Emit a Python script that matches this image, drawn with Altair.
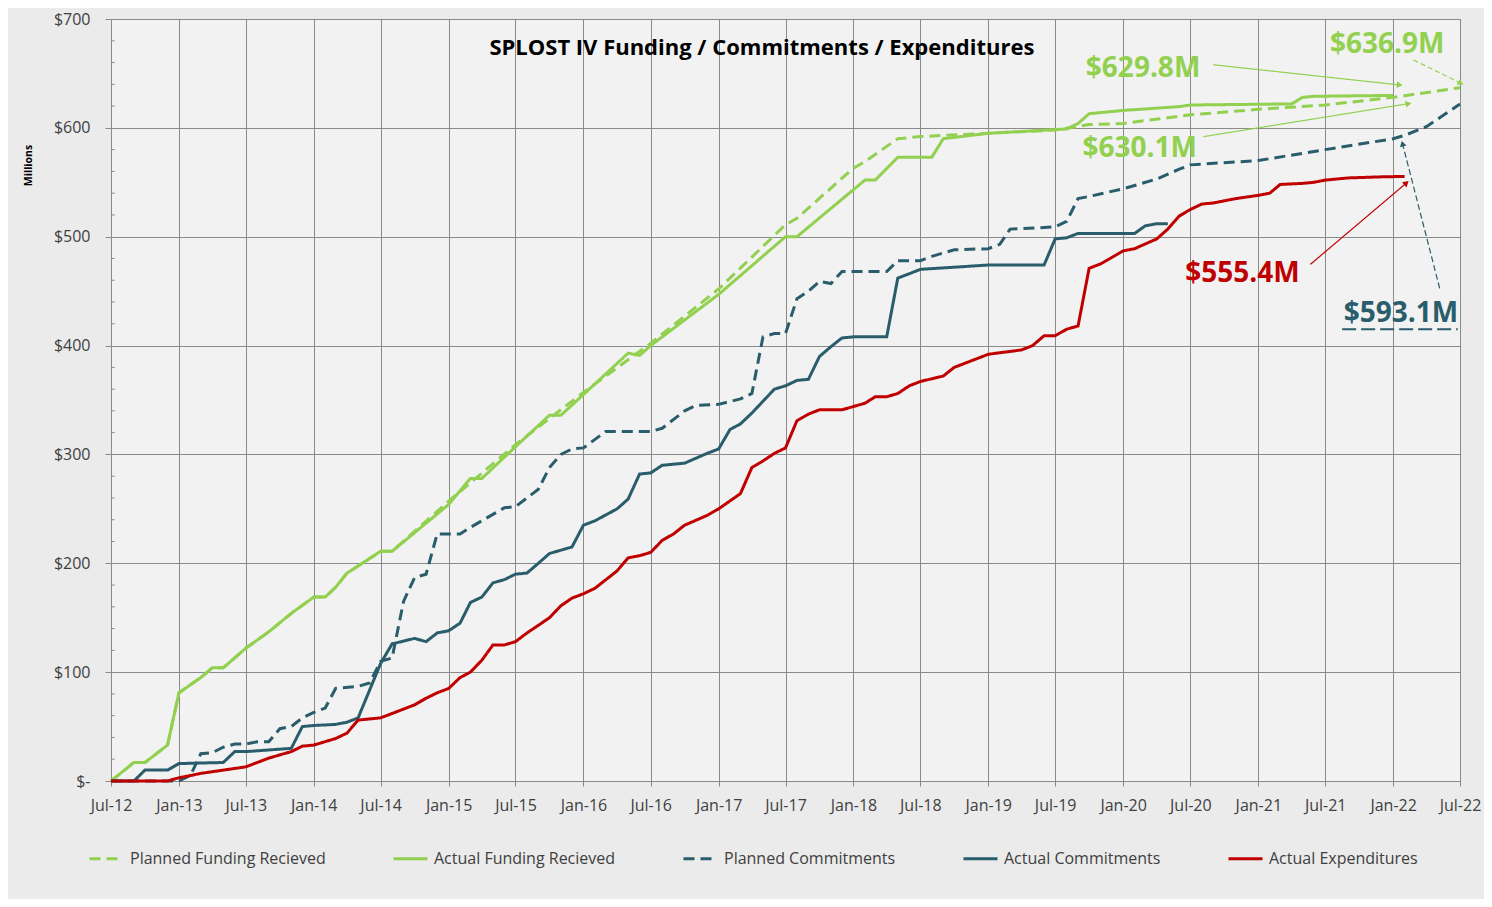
import altair as alt
import pandas as pd

FONT = "Open Sans"

# ---------------- series data ($ millions, by month) ----------------
pf_months = ["2012-07", "2012-09", "2012-10", "2012-12", "2013-01", "2013-03", "2013-04", "2013-05",
             "2013-07", "2013-09", "2013-11", "2014-01", "2014-02", "2014-03", "2014-04", "2014-07",
             "2014-08", "2015-01", "2015-07", "2016-01", "2016-07", "2017-01", "2017-07", "2017-08",
             "2018-01", "2018-02", "2018-04", "2018-05", "2018-07", "2019-01", "2019-07", "2019-10",
             "2020-01", "2020-07", "2021-01", "2021-07", "2022-01", "2022-07"]
pf_values = [0, 17, 17, 33, 81, 95, 104, 104,
             122, 137, 154, 169, 169, 178, 191, 211,
             211, 257, 309, 357, 402, 452, 511, 517,
             563, 569, 583, 590, 592, 595, 598, 603,
             604, 612, 617, 621, 628, 636.9]

af_months = ["2012-07", "2012-09", "2012-10", "2012-12", "2013-01", "2013-03", "2013-04", "2013-05",
             "2013-07", "2013-09", "2013-11", "2014-01", "2014-02", "2014-03", "2014-04", "2014-07",
             "2014-08", "2015-01", "2015-03", "2015-04", "2015-07", "2015-10", "2015-11", "2016-01",
             "2016-05", "2016-06", "2016-07", "2017-01", "2017-07", "2017-08", "2018-02", "2018-03",
             "2018-05", "2018-08", "2018-09", "2019-01", "2019-08", "2019-09", "2019-10", "2020-01",
             "2020-06", "2020-07", "2021-04", "2021-05", "2021-06", "2022-01"]
af_values = [0, 17, 17, 33, 81, 95, 104, 104,
             122, 137, 154, 169, 169, 178, 191, 211,
             211, 254, 278, 278, 307, 336, 336, 355,
             393, 391, 400, 447, 500, 500, 552, 552,
             573, 573, 590, 595, 599, 604, 613, 616,
             619.5, 621, 622, 628, 629, 629.8]

pc_months = ["2012-07", "2013-01", "2013-02", "2013-03", "2013-04", "2013-05", "2013-06", "2013-07",
             "2013-08", "2013-09", "2013-10", "2013-11", "2013-12", "2014-01", "2014-02", "2014-03",
             "2014-05", "2014-06", "2014-07", "2014-08", "2014-09", "2014-10", "2014-11", "2014-12",
             "2015-02", "2015-03", "2015-06", "2015-07", "2015-09", "2015-10", "2015-11", "2015-12",
             "2016-01", "2016-03", "2016-07", "2016-08", "2016-10", "2016-11", "2017-01", "2017-03",
             "2017-04", "2017-05", "2017-06", "2017-07", "2017-08", "2017-09", "2017-10", "2017-11",
             "2017-12", "2018-04", "2018-05", "2018-07", "2018-08", "2018-10", "2019-01", "2019-02",
             "2019-03", "2019-07", "2019-08", "2019-09", "2019-10", "2020-01", "2020-04", "2020-06",
             "2020-07", "2021-01", "2021-07", "2022-01", "2022-02", "2022-04", "2022-07"]
pc_values = [0, 0, 5, 25, 26, 31, 34, 34,
             36, 36, 48, 50, 58, 63, 67, 85,
             87, 90, 110, 113, 165, 187, 190, 227,
             227, 233, 251, 252, 268, 288, 300, 305,
             306, 321, 321, 324, 340, 345, 346, 351,
             356, 408, 411, 411, 443, 450, 459, 457,
             468, 468, 478, 478, 482, 488, 489, 493,
             507, 509, 514, 535, 537, 544, 553, 562,
             566, 570, 580, 590, 593.1, 601, 622]

ac_months = ["2012-07", "2012-09", "2012-10", "2012-12", "2013-01", "2013-05", "2013-06", "2013-07",
             "2013-11", "2013-12", "2014-01", "2014-03", "2014-04", "2014-05", "2014-07", "2014-08",
             "2014-10", "2014-11", "2014-12", "2015-01", "2015-02", "2015-03", "2015-04", "2015-05",
             "2015-06", "2015-07", "2015-08", "2015-09", "2015-10", "2015-12", "2016-01", "2016-02",
             "2016-04", "2016-05", "2016-06", "2016-07", "2016-08", "2016-10", "2016-12", "2017-01",
             "2017-02", "2017-03", "2017-04", "2017-06", "2017-07", "2017-08", "2017-09", "2017-10",
             "2017-11", "2017-12", "2018-01", "2018-04", "2018-05", "2018-06", "2018-07", "2018-10",
             "2019-01", "2019-06", "2019-07", "2019-08", "2019-09", "2020-02", "2020-03", "2020-04",
             "2020-05"]
ac_values = [0, 0, 10, 10, 16, 17, 27, 27,
             30, 50, 51, 52, 54, 58, 108, 126,
             131, 128, 136, 138, 145, 164, 169, 182,
             185, 190, 191, 200, 209, 215, 235, 239,
             250, 259, 282, 283, 290, 292, 301, 305,
             323, 328, 338, 360, 363, 368, 369, 390,
             399, 407, 408, 408, 462, 466, 470, 472,
             474, 474, 498, 499, 503, 503, 510, 512,
             512]

ae_months = ["2012-07", "2012-12", "2013-01", "2013-02", "2013-03", "2013-05", "2013-07", "2013-09",
             "2013-11", "2013-12", "2014-01", "2014-03", "2014-04", "2014-05", "2014-06", "2014-07",
             "2014-08", "2014-10", "2014-11", "2014-12", "2015-01", "2015-02", "2015-03", "2015-04",
             "2015-05", "2015-06", "2015-07", "2015-08", "2015-09", "2015-10", "2015-11", "2015-12",
             "2016-01", "2016-02", "2016-04", "2016-05", "2016-06", "2016-07", "2016-08", "2016-09",
             "2016-10", "2016-12", "2017-01", "2017-03", "2017-04", "2017-05", "2017-06", "2017-07",
             "2017-08", "2017-09", "2017-10", "2017-12", "2018-01", "2018-02", "2018-03", "2018-04",
             "2018-05", "2018-06", "2018-07", "2018-09", "2018-10", "2019-01", "2019-04", "2019-05",
             "2019-06", "2019-07", "2019-08", "2019-09", "2019-10", "2019-11", "2020-01", "2020-02",
             "2020-04", "2020-05", "2020-06", "2020-07", "2020-08", "2020-09", "2020-11", "2021-01",
             "2021-02", "2021-03", "2021-05", "2021-06", "2021-07", "2021-09", "2021-12", "2022-02"]
ae_values = [0, 0, 3, 5, 7, 10, 13, 21,
             27, 32, 33, 39, 44, 56, 57, 58,
             62, 70, 76, 81, 85, 95, 100, 111,
             125, 125, 128, 136, 143, 150, 161, 168,
             172, 177, 193, 205, 207, 210, 221, 227,
             235, 244, 250, 264, 288, 294, 301, 306,
             331, 337, 341, 341, 344, 347, 353, 353,
             356, 363, 367, 372, 380, 392, 396, 400,
             409, 409, 415, 418, 471, 475, 487, 489,
             498, 507, 519, 525, 530, 531, 535, 538,
             540, 548, 549, 550, 552, 554, 555, 555.4]

series_names = ["Planned Funding Recieved", "Actual Funding Recieved", "Planned Commitments",
                "Actual Commitments", "Actual Expenditures"]

# axis ticks
tick_months = ["2012-07", "2013-01", "2013-07", "2014-01", "2014-07", "2015-01", "2015-07",
               "2016-01", "2016-07", "2017-01", "2017-07", "2018-01", "2018-07", "2019-01",
               "2019-07", "2020-01", "2020-07", "2021-01", "2021-07", "2022-01", "2022-07"]
y_ticks = [0, 100, 200, 300, 400, 500, 600, 700]
y_minor_ticks = [20, 40, 60, 80, 120, 140, 160, 180, 220, 240, 260, 280, 320, 340, 360, 380,
                 420, 440, 460, 480, 520, 540, 560, 580, 620, 640, 660, 680]
minor_tick_span = ["2012-07-01", "2012-07-11"]

# title and annotations (anchor positions in data units)
title_text = "SPLOST IV Funding / Commitments / Expenditures"
title_date = "2017-04-28"
title_value = 673

label_texts = ["$629.8M", "$636.9M", "$630.1M", "$555.4M", "$593.1M"]
label_dates = ["2020-02-24", "2021-12-16", "2020-02-15", "2020-11-19", "2022-01-22"]
label_values = [654, 676, 581, 465.5, 429]

arrow_from_dates = ["2020-09-01", "2022-02-25", "2020-08-05", "2021-05-22", "2022-05-07"]
arrow_from_values = [658, 662.4, 591.9, 474.6, 452.6]
arrow_to_dates = ["2022-01-16", "2022-07-01", "2022-02-09", "2022-02-04", "2022-01-27"]
arrow_to_values = [639.5, 641.4, 622.1, 548.8, 584.6]

underline_dates = ["2021-08-16", "2022-06-25"]
underline_value = 415

# ---------------- styles ----------------
GREEN = "#92d050"
TEAL = "#2a5d6b"
RED = "#c00000"
GRID = "#8a8a8a"
series_colors = [GREEN, GREEN, TEAL, TEAL, RED]
series_dashes = [[11, 6], [1, 0], [11, 6], [1, 0], [1, 0]]
label_colors = [GREEN, GREEN, GREEN, RED, TEAL]
arrow_colors = [GREEN, GREEN, GREEN, RED, TEAL]
arrow_dash = [[1, 0], [5, 3], [1, 0], [1, 0], [6, 3]]
arrow_angles = [96, 117, 81, 49, 345]

# ---------------- build tables ----------------
rows = []
for name, months, values in zip(series_names,
                                [pf_months, af_months, pc_months, ac_months, ae_months],
                                [pf_values, af_values, pc_values, ac_values, ae_values]):
    for m, v in zip(months, values):
        rows.append({"series": name, "date": pd.Timestamp(m + "-01"), "value": v})
df = pd.DataFrame(rows)


def dt(s):
    y, m = s.split("-")[:2]
    return alt.DateTime(year=int(y), month=int(m), date=1)


x_scale = alt.Scale(domain=[dt("2012-07"), dt("2022-07")])
y_scale = alt.Scale(domain=[0, 700], nice=False)

legend = alt.Legend(orient="none", legendX=-23, legendY=821, direction="horizontal", columns=5,
                    title=None, symbolType="stroke", symbolSize=1156, symbolStrokeWidth=3,
                    labelFont=FONT, labelFontSize=16, labelColor="#404040", labelLimit=400,
                    columnPadding=61, labelOffset=5)

lines = alt.Chart(df).mark_line(strokeWidth=3).encode(
    x=alt.X("date:T", scale=x_scale, title=None,
            axis=alt.Axis(values=[dt(t) for t in tick_months], format="%b-%y", labelFontSize=16,
                          labelPadding=11, tickSize=5, grid=True, labelFlush=False,
                          labelOverlap=False, labelColor="#404040")),
    y=alt.Y("value:Q", scale=y_scale, title="Millions",
            axis=alt.Axis(values=y_ticks, labelExpr="datum.value == 0 ? '$-' : '$' + datum.value",
                          labelFontSize=16, labelPadding=15, tickSize=6, grid=True,
                          titleAngle=270, titleX=-83, titleY=146, titleFontSize=10.5,
                          titleFontWeight="bold", titleAlign="center", titleBaseline="middle",
                          titleColor="#000000", labelColor="#404040")),
    color=alt.Color("series:N", scale=alt.Scale(domain=series_names, range=series_colors), legend=legend),
    strokeDash=alt.StrokeDash("series:N", scale=alt.Scale(domain=series_names, range=series_dashes),
                              legend=legend),
    detail="series:N",
)

# minor y ticks drawn just inside the left axis
mdf = pd.DataFrame({"date": [pd.Timestamp(minor_tick_span[0])] * len(y_minor_ticks),
                    "date2": [pd.Timestamp(minor_tick_span[1])] * len(y_minor_ticks),
                    "value": y_minor_ticks})
minor = alt.Chart(mdf).mark_rule(color=GRID, strokeWidth=1).encode(
    x=alt.X("date:T", title=None), x2="date2:T", y=alt.Y("value:Q", title="Millions"))

layers = [minor, lines]
# keep the main axes definition first
layers = [lines, minor]

ttl = pd.DataFrame({"date": [pd.Timestamp(title_date)], "value": [title_value], "text": [title_text]})
layers.append(alt.Chart(ttl).mark_text(font=FONT, fontSize=22, fontWeight="bold", color="#000000",
                                       align="center", baseline="middle").encode(
    x=alt.X("date:T", title=None), y=alt.Y("value:Q", title="Millions"), text="text:N"))

for i in range(len(label_texts)):
    adf = pd.DataFrame({"date": [pd.Timestamp(arrow_from_dates[i])], "value": [arrow_from_values[i]],
                        "date2": [pd.Timestamp(arrow_to_dates[i])], "value2": [arrow_to_values[i]]})
    layers.append(alt.Chart(adf).mark_rule(color=arrow_colors[i], strokeWidth=1.2,
                                           strokeDash=arrow_dash[i]).encode(
        x=alt.X("date:T", title=None), y=alt.Y("value:Q", title="Millions"),
        x2="date2:T", y2="value2:Q"))
    hdf = pd.DataFrame({"date": [pd.Timestamp(arrow_to_dates[i])], "value": [arrow_to_values[i]]})
    layers.append(alt.Chart(hdf).mark_point(shape="triangle", filled=True, size=45, opacity=1,
                                            color=arrow_colors[i], angle=arrow_angles[i]).encode(
        x=alt.X("date:T", title=None), y=alt.Y("value:Q", title="Millions")))
    tdf = pd.DataFrame({"date": [pd.Timestamp(label_dates[i])], "value": [label_values[i]],
                        "text": [label_texts[i]]})
    layers.append(alt.Chart(tdf).mark_text(font=FONT, fontSize=28, fontWeight="bold",
                                           color=label_colors[i], align="center",
                                           baseline="middle").encode(
        x=alt.X("date:T", title=None), y=alt.Y("value:Q", title="Millions"), text="text:N"))

udf = pd.DataFrame({"date": [pd.Timestamp(underline_dates[0])], "value": [underline_value],
                    "date2": [pd.Timestamp(underline_dates[1])]})
layers.append(alt.Chart(udf).mark_rule(color=TEAL, strokeWidth=2, strokeDash=[14, 5]).encode(
    x=alt.X("date:T", title=None), y=alt.Y("value:Q", title="Millions"), x2="date2:T"))

chart = alt.layer(*layers).properties(
    width=1349, height=762,
    autosize=alt.AutoSizeParams(type="none"),
    padding={"left": 103, "top": 11, "right": 24, "bottom": 118},
    background="#ebebeb",
).configure_view(
    fill="#f2f2f2", stroke=GRID, strokeWidth=1
).configure_axis(
    labelFont=FONT, titleFont=FONT, gridColor=GRID, gridWidth=1, domainColor=GRID,
    tickColor=GRID
)

chart.save("out.html", embed_options={"renderer": "svg", "actions": False})
